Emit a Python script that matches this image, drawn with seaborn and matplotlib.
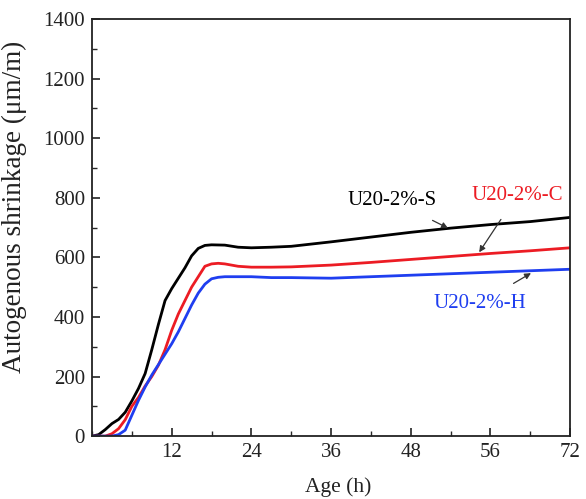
import numpy as np
import pandas as pd
import matplotlib
matplotlib.use("Agg")
import matplotlib.pyplot as plt
from matplotlib.ticker import MultipleLocator
import seaborn as sns

# Autogenous shrinkage (um/m) vs age (h)
age_s = [0, 1, 2, 3, 4, 5, 6, 7, 8, 9, 10, 11, 12, 13, 14, 15, 16, 17, 18, 20, 22,
         24, 27, 30, 36, 42, 48, 54, 60, 66, 72]
shrink_s = [0, 5, 22, 42, 56, 80, 118, 160, 210, 290, 375, 455, 495, 530, 565, 605,
            630, 640, 642, 641, 634, 632, 634, 637, 652, 668, 684, 698, 710, 720, 734]

age_c = [0, 1, 2, 3, 4, 5, 6, 7, 8, 9, 10, 11, 12, 13, 14, 15, 16, 17, 18, 19, 20,
         22, 24, 27, 30, 36, 42, 48, 54, 60, 66, 72]
shrink_c = [0, 0, 0, 8, 25, 55, 100, 130, 168, 200, 238, 290, 355, 410, 455, 500,
            535, 570, 578, 580, 578, 570, 567, 567, 568, 574, 583, 593, 603, 613,
            622, 632]

age_h = age_c
shrink_h = [0, 0, 0, 0, 5, 20, 70, 120, 165, 205, 240, 275, 310, 350, 395, 440,
            480, 510, 528, 533, 535, 535, 535, 532, 532, 530, 535, 540, 545, 550,
            555, 560]

series_names = ["U20-2%-S", "U20-2%-C", "U20-2%-H"]
series_colors = ["#000000", "#ec1c24", "#1f3ef0"]

xtick_pos = [12, 24, 36, 48, 60, 72]
xtick_labels = ["12", "24", "36", "48", "56", "72"]

df = pd.concat([
    pd.DataFrame({"Age": age_s, "Shrinkage": shrink_s, "Mix": series_names[0]}),
    pd.DataFrame({"Age": age_c, "Shrinkage": shrink_c, "Mix": series_names[1]}),
    pd.DataFrame({"Age": age_h, "Shrinkage": shrink_h, "Mix": series_names[2]}),
], ignore_index=True)

sns.set_theme(style="white")
plt.rcParams["font.family"] = ["Liberation Serif", "DejaVu Serif"]

fig = plt.figure(figsize=(5.86, 4.99), dpi=100)
ax = fig.add_axes([0.157, 0.126, 0.816, 0.836])

sns.lineplot(data=df, x="Age", y="Shrinkage", hue="Mix",
             palette=dict(zip(series_names, series_colors)),
             linewidth=2.0, legend=False, ax=ax, sort=False)

ax.set_xlim(0, 72)
ax.set_ylim(0, 1400)
ax.set_xticks(xtick_pos)
ax.set_xticklabels(xtick_labels)
ax.xaxis.set_minor_locator(MultipleLocator(6))
ax.yaxis.set_major_locator(MultipleLocator(200))
ax.yaxis.set_minor_locator(MultipleLocator(100))
ax.tick_params(axis="both", which="major", direction="in", length=6, width=1.2,
               labelsize=15, colors="#222222", pad=5, top=False, right=False,
               bottom=True, left=True)
ax.tick_params(axis="both", which="minor", direction="in", length=3.5, width=1.0,
               top=False, right=False, bottom=True, left=True)
for sp in ax.spines.values():
    sp.set_linewidth(1.3)
    sp.set_color("#222222")

ax.set_xlabel("Age (h)", fontsize=15.5, color="#222222")
ax.xaxis.set_label_coords(0.515, -0.098)
ax.set_ylabel("Autogenous shrinkage (μm/m)", fontsize=19.5, color="#222222")
ax.yaxis.set_label_coords(-0.135, 0.55)

arrow = dict(arrowstyle="-|>", lw=0.9, mutation_scale=9)
ax.annotate("U20-2%-S", xy=(53.6, 698), xytext=(45.2, 792), fontsize=15,
            color=series_colors[0], ha="center", va="center",
            arrowprops=dict(arrow, color="#333333", shrinkA=12, shrinkB=0))
ax.annotate("U20-2%-C", xy=(58.3, 617), xytext=(64.0, 809), fontsize=15,
            color=series_colors[1], ha="center", va="center",
            arrowprops=dict(arrow, color="#333333", shrinkA=10, shrinkB=0))
ax.annotate("U20-2%-H", xy=(66.1, 547), xytext=(58.4, 446), fontsize=15,
            color=series_colors[2], ha="center", va="center",
            arrowprops=dict(arrow, color="#333333", shrinkA=10, shrinkB=0))

fig.savefig("out.png", dpi=100, facecolor="white")
